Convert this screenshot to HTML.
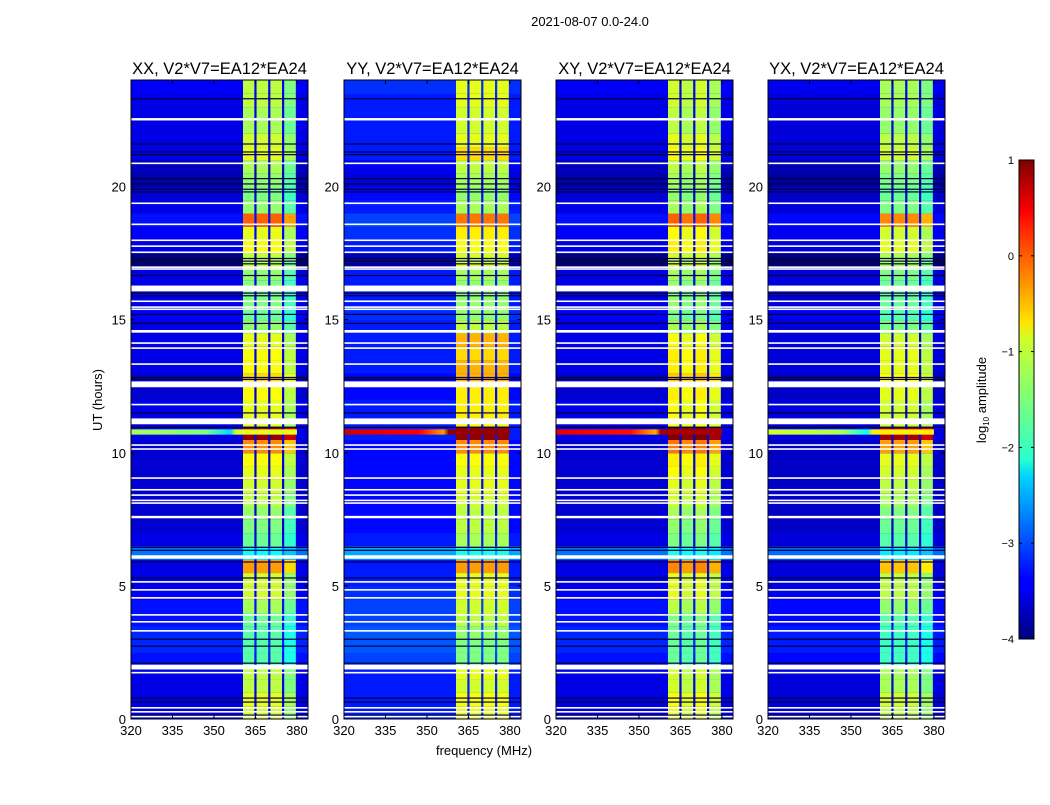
<!DOCTYPE html>
<html><head><meta charset="utf-8">
<style>
body{margin:0;background:#fff;width:1050px;height:800px;overflow:hidden;font-family:"Liberation Sans",sans-serif}
svg text{font-family:"Liberation Sans",sans-serif}
</style></head>
<body>
<svg id="fig" width="1050" height="800" xmlns="http://www.w3.org/2000/svg">
<text x="590" y="26" font-size="13" text-anchor="middle">2021-08-07 0.0-24.0</text>
<text x="484" y="755" font-size="13" text-anchor="middle">frequency (MHz)</text>
<text transform="translate(102,400) rotate(-90)" font-size="13" text-anchor="middle">UT (hours)</text>
<text transform="translate(986,400) rotate(-90)" font-size="13" text-anchor="middle">log<tspan font-size="8" dy="3">10</tspan><tspan dy="-3"> amplitude</tspan></text>
<defs>
<linearGradient id="jet" x1="0" y1="1" x2="0" y2="0">
<stop offset="0" stop-color="#000080"/><stop offset="0.11" stop-color="#0000ff"/><stop offset="0.125" stop-color="#0000ff"/>
<stop offset="0.34" stop-color="#00d4ff"/><stop offset="0.375" stop-color="#29ffce"/><stop offset="0.5" stop-color="#7dff7a"/>
<stop offset="0.625" stop-color="#ceff29"/><stop offset="0.66" stop-color="#ffe500"/><stop offset="0.875" stop-color="#ff1400"/>
<stop offset="0.89" stop-color="#ff0000"/><stop offset="1" stop-color="#800000"/>
</linearGradient>
</defs>
<g id="panels"></g>
<g id="cbar"></g>
</svg>
<script>
// ---- data ----
const panelTitles = ["XX, V2*V7=EA12*EA24","YY, V2*V7=EA12*EA24","XY, V2*V7=EA12*EA24","YX, V2*V7=EA12*EA24"];
const xTicks = [320,335,350,365,380];
const yTicks = [0,5,10,15,20];
const cbarTicks = [1,0,-1,-2,-3,-4];
const subBandEdges = [360.5,365,370,375,380];
const gapWidth = 0.8;
const bgLevel = [-3.3,-3.3,-3.3,-3.3,-3.1,-3.0,-3.0,-3.1,-3.1,-3.2,-3.3,-3.3,-2.6,-3.3,-3.4,-3.4,-3.4,-3.4,-3.4,-3.4,-3.4,-3.3,-3.3,-3.3,-3.4,-3.4,-3.3,-3.3,-3.3,-3.3,-3.2,-3.3,-3.3,-3.3,-3.8,-3.3,-3.2,-3.1,-3.3,-3.4,-3.6,-3.5,-3.3,-3.3,-3.3,-3.3,-3.3,-3.2];
const bgOffset = [-0.2,0.05,-0.2,-0.25];
const bandXX = [-1.3,-1.2,-1.4,-1.4,-1.9,-1.9,-1.9,-1.8,-1.5,-1.3,-1.3,-0.6,-2.3,-1.8,-1.7,-1.6,-1.4,-1.3,-1.2,-1.1,-0.5,0.7,-1.2,-1.2,-1.1,-0.9,-1.1,-1.1,-1.2,-1.6,-1.8,-1.7,-1.7,-1.6,-1.4,-1.1,-1.2,-0.3,-1.6,-1.7,-1.6,-1.5,-1.2,-1.3,-1.5,-1.5,-1.4,-1.4];
const bandYY = [-1.0,-0.9,-1.1,-1.0,-1.5,-1.5,-1.4,-1.2,-1.1,-1.0,-1.0,-0.4,-2.0,-1.3,-1.2,-1.2,-1.1,-1.0,-1.0,-0.9,-0.3,0.9,-0.8,-0.8,-0.8,-0.5,-0.5,-0.7,-0.5,-1.2,-1.4,-1.4,-1.4,-1.3,-1.1,-0.9,-0.8,-0.2,-1.3,-1.4,-1.3,-1.2,-0.7,-1.0,-1.1,-1.1,-1.0,-1.0];
const bandXY = [-1.2,-1.1,-1.3,-1.3,-1.8,-1.8,-1.8,-1.7,-1.4,-1.2,-1.2,-0.5,-2.2,-1.7,-1.6,-1.5,-1.3,-1.2,-1.1,-1.0,-0.4,0.8,-1.1,-1.1,-1.0,-0.8,-1.0,-1.0,-1.1,-1.5,-1.7,-1.6,-1.6,-1.5,-1.3,-1.0,-1.1,-0.3,-1.5,-1.6,-1.5,-1.4,-1.1,-1.2,-1.4,-1.4,-1.3,-1.3];
const bandYX = [-1.4,-1.3,-1.5,-1.5,-2.0,-2.0,-2.0,-1.9,-1.6,-1.4,-1.4,-0.8,-2.4,-1.9,-1.8,-1.7,-1.5,-1.4,-1.3,-1.2,-0.6,0.6,-1.3,-1.3,-1.2,-1.1,-1.2,-1.2,-1.3,-1.7,-1.9,-1.8,-1.8,-1.7,-1.5,-1.2,-1.3,-0.5,-1.7,-1.8,-1.7,-1.6,-1.3,-1.4,-1.6,-1.6,-1.5,-1.5];
const subBandOffset = [[0.2,0.2,0.2,-0.1],[0,0,0,0],[0.2,0.1,0.2,0],[0.2,0.2,0.2,0]];
const burstStart = 10.68, burstEnd = 10.88;
const burstLevel = [-1.3,0.6,0.5,-1.1];
const flagStart = [0.06,0.24,0.39,1.71,1.86,3.28,3.62,3.88,4.52,4.82,5.12,6.02,7.54,8.08,8.18,8.38,8.58,9.02,10.11,10.26,11.07,11.78,12.46,13.30,13.90,14.09,14.51,15.36,15.44,15.66,16.06,16.87,16.94,17.50,17.73,17.95,18.55,19.34,20.84,22.48];
const flagDur = [0.06,0.06,0.06,0.06,0.18,0.06,0.06,0.06,0.06,0.06,0.06,0.13,0.09,0.06,0.06,0.06,0.06,0.06,0.06,0.06,0.22,0.06,0.22,0.06,0.06,0.06,0.10,0.06,0.06,0.06,0.22,0.06,0.06,0.06,0.06,0.06,0.06,0.06,0.06,0.09];
const darkRows = [0.15,0.64,0.79,2.1,2.74,3.0,5.3,5.9,6.34,6.45,10.96,11.5,12.76,12.83,14.86,15.2,15.9,16.0,16.66,17.1,17.2,17.3,19.8,19.9,20.1,20.3,21.2,21.3,21.6,23.3];

// ---- rendering ----
const NS="http://www.w3.org/2000/svg";
const panelLeft=[131,344,556,768], plotTop=80, W=177, H=639;
const fMin=320,fMax=384,tMin=0,tMax=24;
const bands=[bandXX,bandYY,bandXY,bandYX];
function jet(v){let f=(v+4)/5;f=Math.max(0,Math.min(1,f));
 const c=x=>Math.max(0,Math.min(1,1.5-Math.abs(4*f-x)));
 return `rgb(${Math.round(c(3)*255)},${Math.round(c(2)*255)},${Math.round(c(1)*255)})`;}
function mk(tag,attrs,parent){const e=document.createElementNS(NS,tag);for(const k in attrs)e.setAttribute(k,attrs[k]);parent.appendChild(e);return e;}
const root=document.getElementById('panels');
panelLeft.forEach((L,p)=>{
 const xs=f=>L+(f-fMin)/(fMax-fMin)*W;
 const ys=t=>plotTop+H-(t-tMin)/(tMax-tMin)*H;
 const g=mk('g',{},root);
 
 
 const clip=mk('clipPath',{id:'clip'+p},g);
 mk('rect',{x:L,y:plotTop,width:W,height:H},clip);
 const hm=mk('g',{'clip-path':`url(#clip${p})`},g);
 
 
 const rowH=0.5;
 for(let i=0;i<bgLevel.length;i++){
  const t0=i*rowH,t1=t0+rowH,y=ys(t1),h=ys(t0)-ys(t1)+0.5;
  const bg=bgLevel[i]+bgOffset[p];
  const r=mk('rect',{x:xs(fMin),y:y,width:W,height:h,fill:jet(bg)},hm);
  
  
  for(let s=0;s<4;s++){
   const a=subBandEdges[s]+(s>0?gapWidth/2:0),b=subBandEdges[s+1]-gapWidth/2;
   const c=mk('rect',{x:xs(a),y:y,width:xs(b)-xs(a),height:h,fill:jet(bands[p][i]+subBandOffset[p][s])},hm);
   
   
  }
 }
 const bl=burstLevel[p];
 const bgr=mk('linearGradient',{id:'bg'+p,x1:0,x2:1,y1:0,y2:0},g);
 mk('stop',{offset:0,'stop-color':jet(bl)},bgr);mk('stop',{offset:0.45,'stop-color':jet(bl-0.2)},bgr);mk('stop',{offset:0.6,'stop-color':jet(bl-1)},bgr);mk('stop',{offset:0.63,'stop-color':jet(bl+0.3)},bgr);mk('stop',{offset:1,'stop-color':jet(bl+0.3)},bgr);
 const br=mk('rect',{x:xs(fMin),y:ys(burstEnd),width:xs(380)-xs(fMin),height:ys(burstStart)-ys(burstEnd),fill:`url(#bg${p})`},hm);
 
 
 darkRows.forEach(t=>{const d=mk('rect',{x:L,y:ys(t)-0.5,width:W,height:1.2,fill:'#000040'},hm);
  
  });
 flagStart.forEach((t,k)=>{const y1=ys(t+flagDur[k]),y0=ys(t);
  const f=mk('rect',{x:L,y:y1,width:W,height:Math.max(1.4,y0-y1),fill:'#fff'},hm);
  
  });
 const fr=mk('rect',{x:L,y:plotTop,width:W,height:H,fill:'none',stroke:'#000','stroke-width':1},g);
 
 
 const tt=mk('text',{x:L+W/2,y:plotTop-6,'font-size':16.5,'text-anchor':'middle'},g);tt.textContent=panelTitles[p];
 
 
 xTicks.forEach(v=>{const x=xs(v);
  mk('line',{x1:x,x2:x,y1:plotTop+H,y2:plotTop+H-4,stroke:'#000'},g);mk('line',{x1:x,x2:x,y1:plotTop,y2:plotTop+4,stroke:'#000'},g);
  const t=mk('text',{x:x,y:plotTop+H+16,'font-size':13,'text-anchor':'middle'},g);t.textContent=v;
  
  });
 yTicks.forEach(v=>{const y=ys(v);
  mk('line',{x1:L,x2:L+4,y1:y,y2:y,stroke:'#000'},g);mk('line',{x1:L+W,x2:L+W-4,y1:y,y2:y,stroke:'#000'},g);
  const t=mk('text',{x:L-5,y:y+5,'font-size':13,'text-anchor':'end'},g);t.textContent=v;
  
  });
});
const cb=document.getElementById('cbar');
const cx=1019,cy=160,cw=15,ch=479;
const cyS=v=>cy+(1-v)/5*ch;
mk('rect',{x:cx,y:cy,width:cw,height:ch,fill:'url(#jet)',stroke:'#000','stroke-width':1},cb);
cbarTicks.forEach(v=>{const y=cyS(v);
 mk('line',{x1:cx,x2:cx+3,y1:y,y2:y,stroke:'#000'},cb);mk('line',{x1:cx+cw,x2:cx+cw-3,y1:y,y2:y,stroke:'#000'},cb);
 const t=mk('text',{x:cx-5,y:y+4,'font-size':11,'text-anchor':'end'},cb);t.textContent=(v<0?'\u2212'+(-v):v);
 
 });
</script>
</body></html>
